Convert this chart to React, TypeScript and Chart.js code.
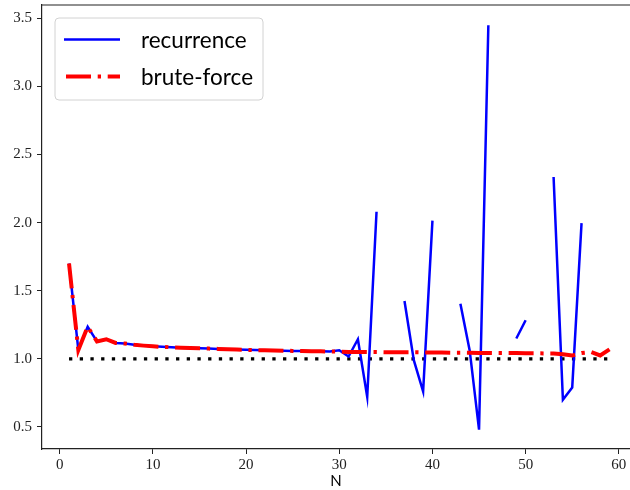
import { useEffect, useRef } from 'react';
import { Chart, registerables } from 'chart.js';

Chart.register(...registerables);

// problem size N
const ns = [
  1, 2, 3, 4, 5, 6, 7, 8, 9, 10, 11, 12, 13, 14, 15, 16, 17, 18, 19, 20,
  21, 22, 23, 24, 25, 26, 27, 28, 29, 30, 31, 32, 33, 34, 35, 36, 37, 38, 39, 40,
  41, 42, 43, 44, 45, 46, 47, 48, 49, 50, 51, 52, 53, 54, 55, 56, 57, 58, 59,
];

// ratio from the recurrence (null where it was not computed)
const recurrence = [
  1.70, 1.065, 1.235, 1.128, 1.144, 1.117, 1.112, 1.103, 1.097, 1.092,
  1.088, 1.085, 1.082, 1.079, 1.077, 1.075, 1.073, 1.070, 1.068, 1.066,
  1.064, 1.063, 1.061, 1.060, 1.058, 1.057, 1.056, 1.055, 1.054, 1.063,
  1.017, 1.144, 0.72, 2.08, null, null, 1.425, 0.99, 0.76, 2.015,
  null, null, 1.405, 1.06, 0.48, 3.45, null, null, 1.149, 1.283,
  null, null, 2.335, 0.70, 0.79, 1.996, null, null, null,
];

// ratio from brute force search
const bruteForce = [
  1.70, 1.065, 1.235, 1.128, 1.144, 1.117, 1.112, 1.103, 1.097, 1.092,
  1.088, 1.085, 1.082, 1.079, 1.077, 1.075, 1.073, 1.070, 1.068, 1.066,
  1.064, 1.063, 1.061, 1.060, 1.058, 1.057, 1.056, 1.055, 1.054, 1.053,
  1.051, 1.051, 1.050, 1.050, 1.049, 1.049, 1.048, 1.048, 1.047, 1.046,
  1.046, 1.045, 1.045, 1.044, 1.043, 1.043, 1.042, 1.042, 1.042, 1.041,
  1.041, 1.040, 1.040, 1.033, 1.024, 1.043, 1.050, 1.025, 1.070,
];

// reference level y = 1
const baselineN = [1, 59];
const baselineValue = [1, 1];

const xTicks = [0, 10, 20, 30, 40, 50, 60];
const yTicks = [0.5, 1.0, 1.5, 2.0, 2.5, 3.0, 3.5];

const serif = '"Liberation Serif", "DejaVu Serif", serif';
const sans = 'Lato, "DejaVu Sans", sans-serif';

// legend drawn inside the plot, top-left, like matplotlib's "best" placement
const insideLegend = {
  id: 'insideLegend',
  afterDatasetsDraw(chart: Chart) {
    const { ctx, chartArea } = chart;
    const x0 = chartArea.left + 13;
    const y0 = chartArea.top + 13;
    const w = 208;
    const h = 82;
    ctx.save();
    // top spine
    ctx.strokeStyle = '#222';
    ctx.lineWidth = 1.2;
    ctx.beginPath();
    ctx.moveTo(chartArea.left, chartArea.top);
    ctx.lineTo(chartArea.right, chartArea.top);
    ctx.stroke();

    ctx.fillStyle = 'rgba(255,255,255,0.8)';
    ctx.strokeStyle = '#d2d2d2';
    ctx.lineWidth = 1;
    ctx.beginPath();
    ctx.roundRect(x0, y0, w, h, 4);
    ctx.fill();
    ctx.stroke();

    const items = chart.data.datasets.filter((d: any) => d.inLegend).sort((a: any, b: any) => a.inLegend - b.inLegend);
    items.forEach((d: any, i: number) => {
      const y = y0 + 21.5 + i * 37;
      ctx.strokeStyle = d.borderColor;
      ctx.lineWidth = d.borderWidth;
      ctx.lineCap = 'butt';
      ctx.setLineDash(d.borderDash || []);
      ctx.beginPath();
      ctx.moveTo(x0 + (d.borderDash ? 11 : 9), y);
      ctx.lineTo(x0 + 65, y);
      ctx.stroke();
      ctx.setLineDash([]);
      ctx.fillStyle = '#000';
      ctx.font = `22.5px ${sans}`;
      ctx.textBaseline = 'middle';
      ctx.fillText(d.label, x0 + 86, y + 1);
    });
    ctx.restore();
  },
};

export default function App() {
  const canvasRef = useRef<HTMLCanvasElement>(null);
  const chartRef = useRef<Chart | null>(null);

  useEffect(() => {
    if (!canvasRef.current) return;
    if (chartRef.current) chartRef.current.destroy();

    const pts = (ys: (number | null)[], xs: number[]) => xs.map((x, i) => ({ x, y: ys[i] }));

    chartRef.current = new Chart(canvasRef.current, {
      type: 'line',
      data: {
        datasets: [
          {
            label: 'brute-force',
            inLegend: 2,
            data: pts(bruteForce, ns),
            borderColor: '#ff0000',
            borderWidth: 4,
            borderDash: [25, 6.7, 3.3, 6.7],
            borderCapStyle: 'butt',
            pointRadius: 0,
            tension: 0,
          } as any,
          {
            label: 'recurrence',
            inLegend: 1,
            data: pts(recurrence, ns),
            borderColor: '#0000ff',
            borderWidth: 2.5,
            pointRadius: 0,
            spanGaps: false,
            tension: 0,
          } as any,
          {
            label: 'optimum',
            data: pts(baselineValue, baselineN),
            borderColor: '#000000',
            borderWidth: 3.3,
            borderDash: [3.3, 7.4],
            borderCapStyle: 'butt',
            pointRadius: 0,
          },
        ],
      },
      options: {
        animation: false,
        responsive: true,
        maintainAspectRatio: false,
        layout: { padding: { top: 5, right: 0, left: 0, bottom: 0 } },
        plugins: { legend: { display: false }, tooltip: { enabled: false } },
        scales: {
          x: {
            type: 'linear',
            min: -1.9,
            max: 61.2,
            afterBuildTicks: (s: any) => { s.ticks = xTicks.map((value) => ({ value })); },
            afterFit: (s: any) => { s.height = 41; s.paddingLeft = 0; s.paddingRight = 0; },
            ticks: { font: { family: serif, size: 15 }, color: '#222', padding: 2 },
            grid: { drawOnChartArea: false, drawTicks: true, tickLength: 5, color: '#222', lineWidth: 1 },
            border: { display: true, color: '#222', width: 1.2 },
            title: { display: true, text: 'N', font: { family: sans, size: 15 }, color: '#000', padding: 0 },
          },
          y: {
            type: 'linear',
            min: 0.338,
            max: 3.598,
            afterBuildTicks: (s: any) => { s.ticks = yTicks.map((value) => ({ value })); },
            afterFit: (s: any) => { s.width = 42; s.paddingTop = 0; s.paddingBottom = 0; },
            ticks: {
              font: { family: serif, size: 15 },
              color: '#222',
              padding: 5,
              callback: (v: any) => Number(v).toFixed(1),
            },
            grid: { drawOnChartArea: false, drawTicks: true, tickLength: 5, color: '#222', lineWidth: 1 },
            border: { display: true, color: '#222', width: 1.2 },
          },
        },
      },
      plugins: [insideLegend],
    });

    return () => {
      if (chartRef.current) {
        chartRef.current.destroy();
        chartRef.current = null;
      }
    };
  }, []);

  return (
    <div style={{ position: 'fixed', left: 0, top: 0, width: 630, height: 490, background: '#fff' }}>
      <canvas ref={canvasRef}></canvas>
    </div>
  );
}
